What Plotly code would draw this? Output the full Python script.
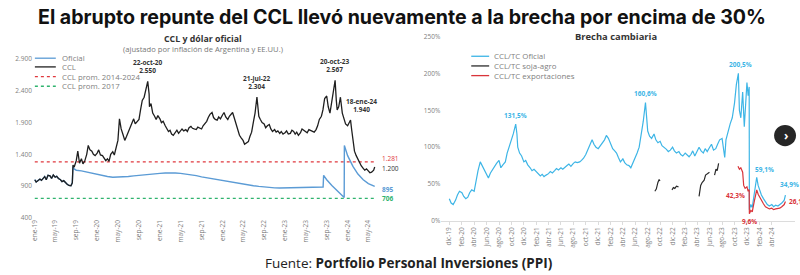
import plotly.graph_objects as go

W, H = 800, 275
def px(x): return x / W
def py(y): return (H - y) / H

TITLE = "El abrupto repunte del CCL llevó nuevamente a la brecha por encima de 30%"
LEFT_TITLE = "CCL y dólar oficial"
LEFT_SUB = "(ajustado por inflación de Argentina y EE.UU.)"
RIGHT_TITLE = "Brecha cambiaria"
SOURCE_LABEL = "Fuente: "
SOURCE_NAME = "Portfolio Personal Inversiones (PPI)"

# ---------------- Left chart data (ARS, real) ----------------
ccl_points = [
    ("2019-01-02",1000),("2019-01-10",965),("2019-01-20",985),
    ("2019-02-01",1010),("2019-02-10",990),("2019-02-20",1030),
    ("2019-03-01",1050),("2019-03-10",1000),("2019-03-20",1070),
    ("2019-04-01",1060),("2019-04-10",1020),("2019-04-20",1075),
    ("2019-05-01",1040),("2019-05-10",1055),("2019-05-20",1020),
    ("2019-06-01",1000),("2019-06-10",970),("2019-06-20",985),
    ("2019-07-01",950),("2019-07-10",930),("2019-07-20",910),
    ("2019-08-01",905),("2019-08-09",950),("2019-08-13",1230),("2019-08-20",1200),
    ("2019-09-01",1300),("2019-09-10",1450),("2019-09-20",1260),
    ("2019-10-01",1330),("2019-10-10",1250),("2019-10-20",1290),
    ("2019-11-01",1400),("2019-11-10",1540),("2019-11-20",1470),
    ("2019-12-01",1450),("2019-12-10",1400),("2019-12-20",1380),
    ("2020-01-01",1420),("2020-01-10",1470),("2020-01-20",1390),
    ("2020-02-01",1380),("2020-02-10",1340),("2020-02-20",1300),
    ("2020-03-01",1330),("2020-03-10",1290),("2020-03-20",1400),
    ("2020-04-01",1440),("2020-04-10",1390),("2020-04-20",1480),
    ("2020-05-01",1620),("2020-05-10",1960),("2020-05-20",1800),
    ("2020-06-01",1700),("2020-06-10",1620),("2020-06-20",1680),
    ("2020-07-01",1750),("2020-07-10",1820),("2020-07-20",1900),
    ("2020-08-01",1960),("2020-08-10",1880),("2020-08-20",1920),
    ("2020-09-01",1950),("2020-09-10",2100),("2020-09-20",2250),
    ("2020-10-01",2300),("2020-10-10",2400),("2020-10-22",2550),("2020-10-30",2350),
    ("2020-11-01",2150),("2020-11-10",2200),("2020-11-20",2050),
    ("2020-12-01",2000),("2020-12-10",1950),("2020-12-20",2010),
    ("2021-01-01",1960),("2021-01-10",1900),("2021-01-20",1920),
    ("2021-02-01",1850),("2021-02-10",1800),("2021-02-20",1760),
    ("2021-03-01",1780),("2021-03-10",1720),("2021-03-20",1700),
    ("2021-04-01",1740),("2021-04-10",1780),("2021-04-20",1730),
    ("2021-05-01",1760),("2021-05-10",1800),("2021-05-20",1770),
    ("2021-06-01",1790),("2021-06-10",1760),("2021-06-20",1820),
    ("2021-07-01",1840),("2021-07-10",1810),("2021-07-20",1800),
    ("2021-08-01",1790),("2021-08-10",1830),("2021-08-20",1810),
    ("2021-09-01",1800),("2021-09-10",1850),("2021-09-20",1880),
    ("2021-10-01",1920),("2021-10-10",1980),("2021-10-20",2030),
    ("2021-11-01",2060),("2021-11-10",1980),("2021-11-20",1950),
    ("2021-12-01",1940),("2021-12-10",1990),("2021-12-20",1960),
    ("2022-01-01",2020),("2022-01-10",2060),("2022-01-20",1990),
    ("2022-02-01",1950),("2022-02-10",2000),("2022-02-20",2040),
    ("2022-03-01",2060),("2022-03-10",1980),("2022-03-20",1880),
    ("2022-04-01",1780),("2022-04-10",1700),("2022-04-20",1660),
    ("2022-05-01",1620),("2022-05-10",1560),("2022-05-20",1580),
    ("2022-06-01",1600),("2022-06-10",1680),("2022-06-20",1750),
    ("2022-07-01",1920),("2022-07-10",2050),("2022-07-21",2304),("2022-07-28",2150),
    ("2022-08-01",2000),("2022-08-10",1950),("2022-08-20",1900),
    ("2022-09-01",1880),("2022-09-10",1820),("2022-09-20",1850),
    ("2022-10-01",1870),("2022-10-10",1800),("2022-10-20",1760),
    ("2022-11-01",1790),("2022-11-10",1750),("2022-11-20",1770),
    ("2022-12-01",1730),("2022-12-10",1760),("2022-12-20",1720),
    ("2023-01-01",1740),("2023-01-10",1770),("2023-01-20",1720),
    ("2023-02-01",1730),("2023-02-10",1780),("2023-02-20",1760),
    ("2023-03-01",1720),("2023-03-10",1750),("2023-03-20",1700),
    ("2023-04-01",1740),("2023-04-10",1800),("2023-04-20",1780),
    ("2023-05-01",1760),("2023-05-10",1740),("2023-05-20",1790),
    ("2023-06-01",1770),("2023-06-10",1760),("2023-06-20",1750),
    ("2023-07-01",1790),("2023-07-10",1850),("2023-07-20",1950),
    ("2023-08-01",2000),("2023-08-10",2100),("2023-08-20",2280),
    ("2023-09-01",2320),("2023-09-10",2150),("2023-09-20",2050),
    ("2023-10-01",2250),("2023-10-10",2450),("2023-10-20",2567),("2023-10-27",2250),
    ("2023-11-01",2100),("2023-11-10",2150),("2023-11-20",2300),
    ("2023-12-01",2050),("2023-12-10",1950),("2023-12-20",1880),
    ("2024-01-01",1850),("2024-01-18",1940),("2024-01-25",1780),
    ("2024-02-01",1600),("2024-02-10",1450),("2024-02-20",1380),
    ("2024-03-01",1320),("2024-03-10",1260),("2024-03-20",1220),
    ("2024-04-01",1180),("2024-04-10",1150),("2024-04-20",1170),
    ("2024-05-01",1130),("2024-05-10",1110),("2024-05-20",1120),
    ("2024-06-01",1150),("2024-06-07",1200),
]

oficial_points = [
    ("2019-01-02",1000),("2019-01-10",965),("2019-01-20",985),
    ("2019-02-01",1010),("2019-02-10",990),("2019-02-20",1030),
    ("2019-03-01",1050),("2019-03-10",1000),("2019-03-20",1070),
    ("2019-04-01",1060),("2019-04-10",1020),("2019-04-20",1075),
    ("2019-05-01",1040),("2019-05-10",1055),("2019-05-20",1020),
    ("2019-06-01",1000),("2019-06-10",970),("2019-06-20",985),
    ("2019-07-01",950),("2019-07-10",930),("2019-07-20",910),
    ("2019-08-01",905),("2019-08-09",950),("2019-08-13",1210),("2019-08-20",1170),
    ("2019-09-01",1150),("2019-10-01",1140),("2019-11-01",1120),("2019-12-01",1100),
    ("2020-01-01",1080),("2020-02-01",1060),("2020-03-01",1050),("2020-04-01",1040),
    ("2020-05-01",1040),("2020-06-01",1045),("2020-07-01",1050),("2020-08-01",1060),
    ("2020-09-01",1070),("2020-10-01",1080),("2020-11-01",1090),("2020-12-01",1095),
    ("2021-01-01",1100),("2021-02-01",1105),("2021-03-01",1108),("2021-04-01",1105),
    ("2021-05-01",1100),("2021-06-01",1090),("2021-07-01",1080),("2021-08-01",1065),
    ("2021-09-01",1045),("2021-10-01",1030),("2021-11-01",1015),("2021-12-01",1000),
    ("2022-01-01",990),("2022-02-01",975),("2022-03-01",960),("2022-04-01",945),
    ("2022-05-01",930),("2022-06-01",915),("2022-07-01",905),("2022-08-01",895),
    ("2022-09-01",885),("2022-10-01",878),("2022-11-01",872),("2022-12-01",870),
    ("2023-01-01",872),("2023-02-01",876),("2023-03-01",880),("2023-04-01",882),
    ("2023-05-01",884),("2023-06-01",882),("2023-07-01",880),("2023-08-11",885),
    ("2023-08-14",1070),("2023-09-01",1000),("2023-10-01",910),("2023-11-01",830),
    ("2023-12-01",760),("2023-12-12",720),("2023-12-13",1540),
    ("2024-01-01",1380),("2024-02-01",1210),("2024-03-01",1090),("2024-04-01",1000),
    ("2024-05-01",940),("2024-06-07",895),
]

ccl_avg_2014_2024 = 1281
ccl_avg_2017 = 706
ref_line_dates = ["2019-01-02", "2024-06-07"]

left_peaks = [("2020-10-22", 2550, "22-oct-20", "2.550", 0),
              ("2022-07-21", 2304, "21-jul-22", "2.304", 0),
              ("2023-10-20", 2567, "20-oct-23", "2.567", 0),
              ("2024-01-18", 1940, "18-ene-24", "1.940", 11)]

left_tickvals = ["2019-01-01","2019-05-01","2019-09-01","2020-01-01","2020-05-01","2020-09-01",
                 "2021-01-01","2021-05-01","2021-09-01","2022-01-01","2022-05-01","2022-09-01",
                 "2023-01-01","2023-05-01","2023-09-01","2024-01-01","2024-05-01"]
left_ticktext = ["ene-19","may-19","sep-19","ene-20","may-20","sep-20","ene-21","may-21","sep-21",
                 "ene-22","may-22","sep-22","ene-23","may-23","sep-23","ene-24","may-24"]
left_yvals = [400, 900, 1400, 1900, 2400, 2900]
left_ytext = ["400", "900", "1.400", "1.900", "2.400", "2.900"]

# ---------------- Right chart data (%) ----------------
brecha_oficial_points = [
    ("2019-12-01",30),("2019-12-10",24),("2019-12-20",22),
    ("2020-01-01",28),("2020-01-10",35),("2020-01-20",40),
    ("2020-02-01",38),("2020-02-10",33),("2020-02-20",30),
    ("2020-03-01",32),("2020-03-10",38),("2020-03-20",42),
    ("2020-04-01",40),("2020-04-10",55),("2020-04-20",68),
    ("2020-05-01",80),("2020-05-10",75),("2020-05-20",70),
    ("2020-06-01",62),("2020-06-10",58),("2020-06-20",65),
    ("2020-07-01",70),("2020-07-10",75),("2020-07-20",78),
    ("2020-08-01",82),("2020-08-10",72),("2020-08-20",76),
    ("2020-09-01",80),("2020-09-10",92),("2020-09-20",100),
    ("2020-10-01",108),("2020-10-10",118),("2020-10-22",131.5),("2020-10-28",118),
    ("2020-11-01",100),("2020-11-10",92),("2020-11-20",88),
    ("2020-12-01",80),("2020-12-10",82),("2020-12-20",76),
    ("2021-01-01",72),("2021-01-10",68),("2021-01-20",70),
    ("2021-02-01",66),("2021-02-10",64),("2021-02-20",61),
    ("2021-03-01",63),("2021-03-10",60),("2021-03-20",62),
    ("2021-04-01",64),("2021-04-10",67),("2021-04-20",65),
    ("2021-05-01",68),("2021-05-10",71),("2021-05-20",69),
    ("2021-06-01",72),("2021-06-10",70),("2021-06-20",73),
    ("2021-07-01",75),("2021-07-10",77),("2021-07-20",74),
    ("2021-08-01",78),("2021-08-10",80),("2021-08-20",79),
    ("2021-09-01",80),("2021-09-10",82),("2021-09-20",85),
    ("2021-10-01",90),("2021-10-10",96),("2021-10-20",102),
    ("2021-11-01",110),("2021-11-10",104),("2021-11-20",100),
    ("2021-12-01",98),("2021-12-10",102),("2021-12-20",105),
    ("2022-01-01",110),("2022-01-10",116),("2022-01-20",112),
    ("2022-02-01",104),("2022-02-10",98),("2022-02-20",95),
    ("2022-03-01",92),("2022-03-10",86),("2022-03-20",80),
    ("2022-04-01",84),("2022-04-10",79),("2022-04-20",76),
    ("2022-05-01",75),("2022-05-10",72),("2022-05-20",78),
    ("2022-06-01",85),("2022-06-10",92),("2022-06-20",100),
    ("2022-07-01",118),("2022-07-10",135),("2022-07-21",160.6),("2022-07-28",135),
    ("2022-08-01",122),("2022-08-10",115),("2022-08-20",112),
    ("2022-09-01",118),("2022-09-10",110),("2022-09-20",106),
    ("2022-10-01",108),("2022-10-10",102),("2022-10-20",100),
    ("2022-11-01",97),("2022-11-10",94),("2022-11-20",96),
    ("2022-12-01",100),("2022-12-10",95),("2022-12-20",92),
    ("2023-01-01",94),("2023-01-10",90),("2023-01-20",88),
    ("2023-02-01",92),("2023-02-10",89),("2023-02-20",87),
    ("2023-03-01",90),("2023-03-10",95),("2023-03-20",88),
    ("2023-04-01",96),("2023-04-10",100),("2023-04-20",95),
    ("2023-05-01",92),("2023-05-10",98),("2023-05-20",94),
    ("2023-06-01",100),("2023-06-10",104),("2023-06-20",96),
    ("2023-07-01",98),("2023-07-10",104),("2023-07-20",110),
    ("2023-08-01",112),("2023-08-14",86),("2023-08-20",110),
    ("2023-09-01",125),("2023-09-10",132),("2023-09-20",140),
    ("2023-10-01",160),("2023-10-10",185),("2023-10-20",200.5),("2023-10-25",150),
    ("2023-11-01",140),("2023-11-10",175),("2023-11-18",128),("2023-11-25",160),
    ("2023-12-01",188),("2023-12-07",170),("2023-12-12",182),("2023-12-13",15),
    ("2023-12-20",22),("2023-12-27",18),
    ("2024-01-05",35),("2024-01-12",50),("2024-01-18",59.1),("2024-01-25",48),
    ("2024-02-01",42),("2024-02-10",35),("2024-02-20",30),
    ("2024-03-01",25),("2024-03-10",22),("2024-03-20",20),
    ("2024-04-01",22),("2024-04-10",19),("2024-04-20",21),
    ("2024-05-01",20),("2024-05-10",22),("2024-05-20",24),
    ("2024-06-01",28),("2024-06-07",34.9),
]

brecha_soja_points = [
    ("2022-09-05",40),("2022-09-12",43),("2022-09-20",52),("2022-09-26",56),("2022-09-30",54),
    (None, None),
    ("2022-11-28",42),("2022-12-05",45),("2022-12-12",44),("2022-12-20",47),("2022-12-30",46),
    (None, None),
    ("2023-04-10",33),("2023-04-18",48),("2023-04-25",52),("2023-05-05",55),("2023-05-12",62),
    ("2023-05-20",64),("2023-05-31",66),
    (None, None),
    ("2023-06-25",62),("2023-07-02",70),("2023-07-08",68),("2023-07-15",78),
]

brecha_export_points = [
    ("2023-10-18",74),("2023-10-25",70),("2023-11-01",72),("2023-11-10",66),
    ("2023-11-15",48),("2023-11-22",44),("2023-12-01",46),("2023-12-07",40),
    ("2023-12-12",42.3),("2023-12-13",9.6),("2023-12-20",14),("2023-12-27",12),
    ("2024-01-05",25),("2024-01-12",35),("2024-01-18",42),("2024-01-25",36),
    ("2024-02-01",32),("2024-02-10",27),("2024-02-20",23),
    ("2024-03-01",19),("2024-03-10",17),("2024-03-20",16),
    ("2024-04-01",17),("2024-04-10",15),("2024-04-20",16),
    ("2024-05-01",16),("2024-05-10",17),("2024-05-20",19),
    ("2024-06-01",22),("2024-06-07",26.1),
]

right_tickvals = ["2019-12-01","2020-02-01","2020-04-01","2020-06-01","2020-08-01","2020-10-01",
                  "2020-12-01","2021-02-01","2021-04-01","2021-06-01","2021-08-01","2021-10-01",
                  "2021-12-01","2022-02-01","2022-04-01","2022-06-01","2022-08-01","2022-10-01",
                  "2022-12-01","2023-02-01","2023-04-01","2023-06-01","2023-08-01","2023-10-01",
                  "2023-12-01","2024-02-01","2024-04-01"]
right_ticktext = ["dic-19","feb-20","abr-20","jun-20","ago-20","oct-20","dic-20","feb-21","abr-21",
                  "jun-21","ago-21","oct-21","dic-21","feb-22","abr-22","jun-22","ago-22","oct-22",
                  "dic-22","feb-23","abr-23","jun-23","ago-23","oct-23","dic-23","feb-24","abr-24"]
right_yvals = [0, 50, 100, 150, 200, 250]
right_ytext = ["0%", "50%", "100%", "150%", "200%", "250%"]

right_labels = [  # date, value, text, color key, xshift, yshift
    ("2020-10-22", 131.5, "131,5%", "o", 0, 9),
    ("2022-07-21", 160.6, "160,6%", "o", 0, 9),
    ("2023-10-20", 200.5, "200,5%", "o", 2, 9),
    ("2024-01-18", 59.1, "59,1%", "o", 8, 8),
    ("2024-06-07", 34.9, "34,9%", "o", 4, 11),
    ("2023-12-12", 42.3, "42,3%", "e", -14, -6),
    ("2023-12-13", 9.6, "9,6%", "e", 0, -8),
    ("2024-06-07", 26.1, "26,1%", "e", 13, 0),
]

# ---------------- Styling ----------------
C_OFICIAL = "#5b9bd5"
C_CCL = "#1f1f1f"
C_RED = "#e0393e"
C_GREEN = "#2fb36e"
C_BRECHA = "#3db5e6"
C_SOJA = "#2b2b2b"
C_EXPO = "#d9343a"
C_TICK = "#808080"
FONT = "Open Sans"

def unzip(points):
    return [p[0] for p in points], [p[1] for p in points]

fig = go.Figure()

# Left chart
cd, cv = unzip(ccl_points)
od, ov = unzip(oficial_points)
fig.add_trace(go.Scatter(x=ref_line_dates, y=[ccl_avg_2014_2024]*2, mode="lines",
                         line=dict(color=C_RED, width=1.3, dash="3px,3px"), xaxis="x", yaxis="y",
                         showlegend=False, hoverinfo="skip"))
fig.add_trace(go.Scatter(x=ref_line_dates, y=[ccl_avg_2017]*2, mode="lines",
                         line=dict(color=C_GREEN, width=1.3, dash="3px,3px"), xaxis="x", yaxis="y",
                         showlegend=False, hoverinfo="skip"))
fig.add_trace(go.Scatter(x=od, y=ov, mode="lines", line=dict(color=C_OFICIAL, width=1.4),
                         xaxis="x", yaxis="y", showlegend=False))
fig.add_trace(go.Scatter(x=cd, y=cv, mode="lines", line=dict(color=C_CCL, width=1.3),
                         xaxis="x", yaxis="y", showlegend=False))

# Right chart
bd, bv = unzip(brecha_oficial_points)
sd, sv = unzip(brecha_soja_points)
ed, ev = unzip(brecha_export_points)
fig.add_trace(go.Scatter(x=bd, y=bv, mode="lines", line=dict(color=C_BRECHA, width=1.2),
                         xaxis="x2", yaxis="y2", showlegend=False))
fig.add_trace(go.Scatter(x=sd, y=sv, mode="lines", line=dict(color=C_SOJA, width=1.2),
                         connectgaps=False, xaxis="x2", yaxis="y2", showlegend=False))
fig.add_trace(go.Scatter(x=ed, y=ev, mode="lines", line=dict(color=C_EXPO, width=1.2),
                         xaxis="x2", yaxis="y2", showlegend=False))

axis_common = dict(showgrid=False, zeroline=False, tickfont=dict(family=FONT, size=6.5, color=C_TICK))

fig.update_layout(
    width=W, height=H, margin=dict(l=0, r=0, t=0, b=0),
    paper_bgcolor="white", plot_bgcolor="white", showlegend=False,
    font=dict(family=FONT, color="#333"),
    xaxis=dict(domain=[px(30), px(375)], range=["2018-12-22", "2024-06-18"], type="date",
               tickvals=left_tickvals, ticktext=left_ticktext, tickangle=-90,
               showline=False, ticks="", anchor="y", **axis_common),
    yaxis=dict(domain=[py(220), py(56)], range=[400, 2900], tickvals=left_yvals, ticktext=left_ytext,
               showline=False, ticks="", anchor="x", **axis_common),
    xaxis2=dict(domain=[px(440), px(795)], range=["2019-10-23", "2024-07-24"], type="date",
                tickvals=right_tickvals, ticktext=right_ticktext, tickangle=-90,
                showline=True, linecolor="#dcdcdc", linewidth=1, ticks="outside", ticklen=3,
                tickcolor="#dcdcdc", anchor="y2", **axis_common),
    yaxis2=dict(domain=[py(223), py(33)], range=[0, 250], tickvals=right_yvals, ticktext=right_ytext,
                showline=False, ticks="", anchor="x2", **axis_common),
)

ann = []
def paper_text(x, y, text, size, color, family=FONT, xanchor="center"):
    ann.append(dict(x=px(x), y=py(y), xref="paper", yref="paper", showarrow=False,
                    xanchor=xanchor, yanchor="middle", text=text,
                    font=dict(family=family, size=size, color=color)))

# Main title and source
paper_text(400, 12, f"<b>{TITLE}</b>", 19.6, "#111", family="Inter")
paper_text(408, 267, f"{SOURCE_LABEL}<b>{SOURCE_NAME}</b>", 13.5, "#222")
# Subplot titles
paper_text(201, 35, f"<b>{LEFT_TITLE}</b>", 8.8, "#333")
paper_text(201, 45, LEFT_SUB, 7.6, "#777")
paper_text(615, 33, f"<b>{RIGHT_TITLE}</b>", 9.4, "#333")

# Left peak labels
for d, v, t1, t2, xs in left_peaks:
    ann.append(dict(x=d, y=v, xref="x", yref="y", showarrow=False, yanchor="bottom", yshift=4,
                    xshift=xs, text=f"<b>{t1}</b><br><b>{t2}</b>",
                    font=dict(family=FONT, size=6.5, color="#333")))
# Left end labels
end_left = ref_line_dates[-1]
for val, txt, col, ys in [(ccl_avg_2014_2024, "1.281", C_RED, 3), (cv[-1], "1.200", "#333", -1),
                          (ov[-1], "<b>895</b>", C_OFICIAL, -3), (ccl_avg_2017, "<b>706</b>", C_GREEN, 0)]:
    ann.append(dict(x=end_left, y=val, xref="x", yref="y", showarrow=False, xanchor="left",
                    yanchor="middle", xshift=5, yshift=ys, text=txt,
                    font=dict(family=FONT, size=6.5, color=col)))

# Right labels
for d, v, t, c, xs, ys in right_labels:
    ann.append(dict(x=d, y=v, xref="x2", yref="y2", showarrow=False, xshift=xs, yshift=ys,
                    xanchor="center", yanchor="middle", text=f"<b>{t}</b>",
                    font=dict(family=FONT, size=6.5, color=C_BRECHA if c == "o" else C_EXPO)))

# Manual legends
shapes = []
left_leg = [("Oficial", C_OFICIAL, "solid", 55), ("CCL", C_CCL, "solid", 64),
            ("CCL prom. 2014-2024", C_RED, "3px,3px", 74), ("CCL prom. 2017", C_GREEN, "3px,3px", 84)]
for name, col, dash, y in left_leg:
    shapes.append(dict(type="line", xref="paper", yref="paper", x0=px(32), x1=px(53), y0=py(y), y1=py(y),
                       line=dict(color=col, width=1.3, dash=dash)))
    paper_text(57, y, name, 7.8, "#808080", xanchor="left")
right_leg = [("CCL/TC Oficial", C_BRECHA, 53), ("CCL/TC soja-agro", C_SOJA, 63),
             ("CCL/TC exportaciones", C_EXPO, 73)]
for name, col, y in right_leg:
    shapes.append(dict(type="line", xref="paper", yref="paper", x0=px(470), x1=px(488), y0=py(y), y1=py(y),
                       line=dict(color=col, width=1.3)))
    paper_text(491, y, name, 7.9, "#808080", xanchor="left")

# Carousel button overlay
shapes.append(dict(type="circle", xref="paper", yref="paper", x0=px(774), x1=px(796), y0=py(146), y1=py(124),
                   fillcolor="#262626", line=dict(width=0), layer="above"))
paper_text(785.5, 134.5, "<b>›</b>", 12, "white")

fig.update_layout(annotations=ann, shapes=shapes)
fig.write_html("out.html")
